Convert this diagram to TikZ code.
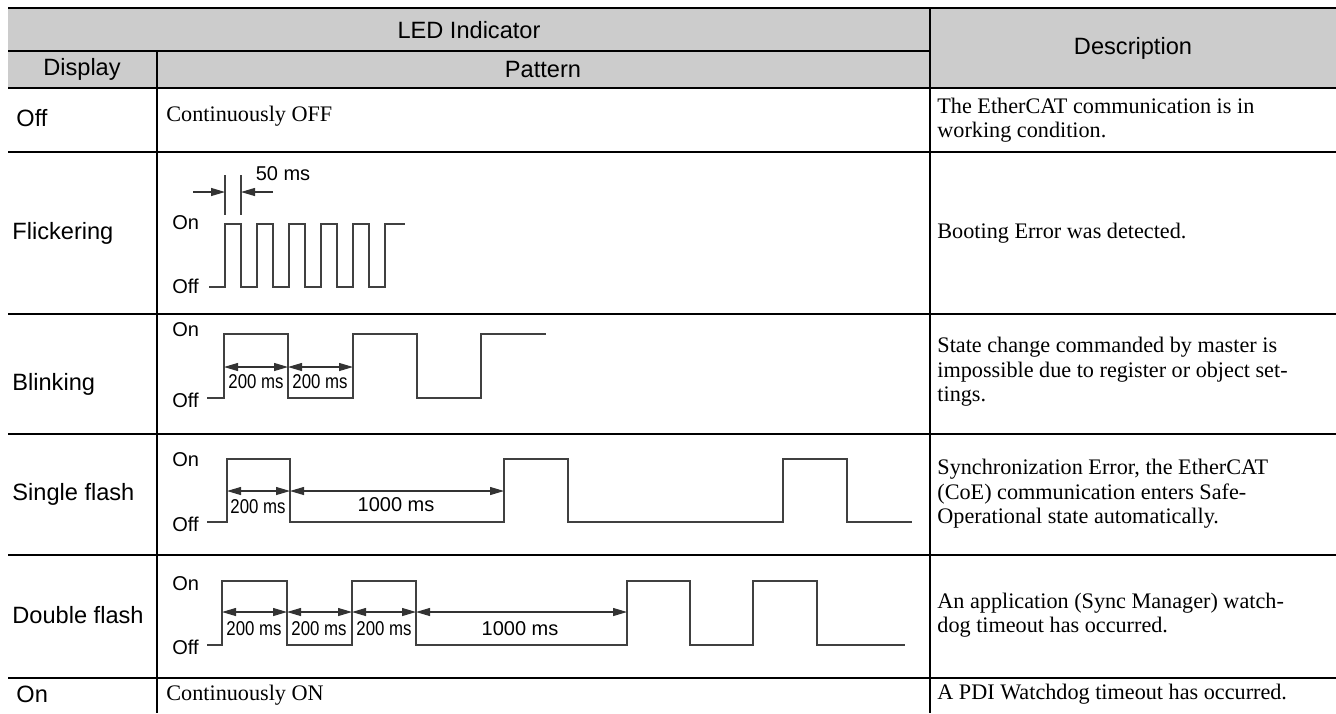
\documentclass[tikz,border=0pt]{standalone}
\usepackage{fontspec}
\setmainfont{Liberation Serif}
\setsansfont{Liberation Sans}
\usepackage{graphicx}
\usetikzlibrary{arrows.meta,positioning}

\begin{document}
\begin{tikzpicture}[x=0.5pt,y=-0.5pt,
  rule/.style={line width=1.3pt},
  wave/.style={draw=black!75,line width=0.55pt},
  dimline/.style={draw=black!80,line width=0.55pt,{Triangle[length=7pt,width=4pt]}-{Triangle[length=7pt,width=4pt]}},
  tipline/.style={draw=black!80,line width=0.55pt,-{Triangle[length=7pt,width=4pt]}},
  head/.style={inner sep=0pt,font=\sffamily\fontsize{11.8}{14}\selectfont},
  disp/.style={anchor=west,inner sep=0pt,font=\sffamily\fontsize{11.8}{14}\selectfont},
  desc/.style={anchor=west,inner sep=0pt,align=left,font=\fontsize{11.1}{12.2}\selectfont},
  lvl/.style={anchor=west,inner sep=0pt,font=\sffamily\fontsize{10}{12}\selectfont},
  ms/.style={inner sep=0pt,font=\sffamily\fontsize{10}{12}\selectfont}]
  \useasboundingbox (0,0) rectangle (1336,713);

  % table frame
  \fill[black!20] (8,8) rectangle (1336,88);
  \draw[rule] (8,8) -- (1336,8);
  \draw[rule] (8,51) -- (930,51);
  \foreach \y in {88,152,314,434,555,678}
    \draw[rule] (8,\y) -- (1336,\y);
  \draw[rule] (157,51) -- (157,713);
  \draw[rule] (930,8) -- (930,713);

  \node[head] (led) at (469,30) {LED Indicator};
  \node[head] (descr) at (1133,48) {Description};
  \node[head] (display) at (82,69) {Display};
  \node[head] (pattern) at (543,69) {Pattern};

  % display column
  \node[disp] (d-off) at (16,118) {Off};
  \node[disp] (d-flicker) at (12,233) {Flickering};
  \node[disp] (d-blink) at (12,384) {Blinking};
  \node[disp] (d-single) at (12,494) {Single flash};
  \node[disp] (d-double) at (12,615) {Double flash};
  \node[disp] (d-on) at (16,694) {On};

  % description column
  \node[desc] (t-off) at (937,120) {The EtherCAT communication is in\\working condition.};
  \node[desc] (t-flicker) at (937,233) {Booting Error was detected.};
  \node[desc] (t-blink) at (937,372) {State change commanded by master is\\impossible due to register or object set-\\tings.};
  \node[desc] (t-single) at (937,494) {Synchronization Error, the EtherCAT\\(CoE) communication enters Safe-\\Operational state automatically.};
  \node[desc] (t-double) at (937,615) {An application (Sync Manager) watch-\\dog timeout has occurred.};
  \node[desc] (t-on) at (937,694) {A PDI Watchdog timeout has occurred.};

  % pattern column
  \node[desc] (p-off) at (166,116) {Continuously OFF};
  \node[desc] (p-on) at (166,695) {Continuously ON};

  % flickering
  \node[lvl] (f-on) at (172,223) {On};
  \node[lvl] (f-off) at (172,286) {Off};
  \draw[wave] (209,287) -- (225,287)
    \foreach \i in {0,...,4} { -- (225+32*\i,224) -- (241+32*\i,224) -- (241+32*\i,287) -- (257+32*\i,287) }
    -- (385,224) -- (405,224);
  \draw[wave] (225,175) -- (225,215) (241,175) -- (241,215);
  \coordinate (f-a) at (225,192);
  \coordinate (f-b) at (241,192);
  \coordinate (f-l) at (193,192);
  \coordinate (f-r) at (273,192);
  \draw[tipline] (f-l) -- (f-a);
  \draw[tipline] (f-r) -- (f-b);
  \node[ms] (f-ms) at (283,174) {50 ms};

  % blinking
  \node[lvl] (b-on) at (172,330) {On};
  \node[lvl] (b-off) at (172,400) {Off};
  \draw[wave] (207,398) -- (224,398) -- (224,334) -- (288,334) -- (288,398) -- (353,398)
    -- (353,334) -- (417,334) -- (417,398) -- (481,398) -- (481,334) -- (546,334);
  \coordinate (b0) at (224,367);
  \coordinate (b1) at (288,367);
  \coordinate (b2) at (353,367);
  \draw[dimline] (b0) -- (b1);
  \draw[dimline] (b1) -- (b2);
  \node[ms] (b-ms1) at (256,382) {\scalebox{0.84}[1]{200 ms}};
  \node[ms] (b-ms2) at (320,382) {\scalebox{0.84}[1]{200 ms}};

  % single flash
  \node[lvl] (s-on) at (172,460) {On};
  \node[lvl] (s-off) at (172,524) {Off};
  \draw[wave] (207,522) -- (227,522) -- (227,459) -- (290,459) -- (290,522) -- (504,522)
    -- (504,459) -- (568,459) -- (568,522) -- (783,522) -- (783,459) -- (847,459)
    -- (847,522) -- (912,522);
  \coordinate (s0) at (227,491);
  \coordinate (s1) at (290,491);
  \coordinate (s2) at (504,491);
  \draw[dimline] (s0) -- (s1);
  \draw[dimline] (s1) -- (s2);
  \node[ms] (s-ms1) at (258,507) {\scalebox{0.84}[1]{200 ms}};
  \node[ms] (s-ms2) at (396,505) {1000 ms};

  % double flash
  \node[lvl] (w-on) at (172,584) {On};
  \node[lvl] (w-off) at (172,647) {Off};
  \draw[wave] (207,645) -- (222,645) -- (222,581) -- (287,581) -- (287,645) -- (352,645)
    -- (352,581) -- (416,581) -- (416,645) -- (627,645) -- (627,581) -- (690,581)
    -- (690,645) -- (753,645) -- (753,581) -- (817,581) -- (817,645) -- (905,645);
  \coordinate (w0) at (222,612);
  \coordinate (w1) at (287,612);
  \coordinate (w2) at (352,612);
  \coordinate (w3) at (416,612);
  \coordinate (w4) at (627,612);
  \draw[dimline] (w0) -- (w1);
  \draw[dimline] (w1) -- (w2);
  \draw[dimline] (w2) -- (w3);
  \draw[dimline] (w3) -- (w4);
  \node[ms] (w-ms1) at (254,629) {\scalebox{0.84}[1]{200 ms}};
  \node[ms] (w-ms2) at (319,629) {\scalebox{0.84}[1]{200 ms}};
  \node[ms] (w-ms3) at (384,629) {\scalebox{0.84}[1]{200 ms}};
  \node[ms] (w-ms4) at (520,629) {1000 ms};
\end{tikzpicture}
\end{document}
